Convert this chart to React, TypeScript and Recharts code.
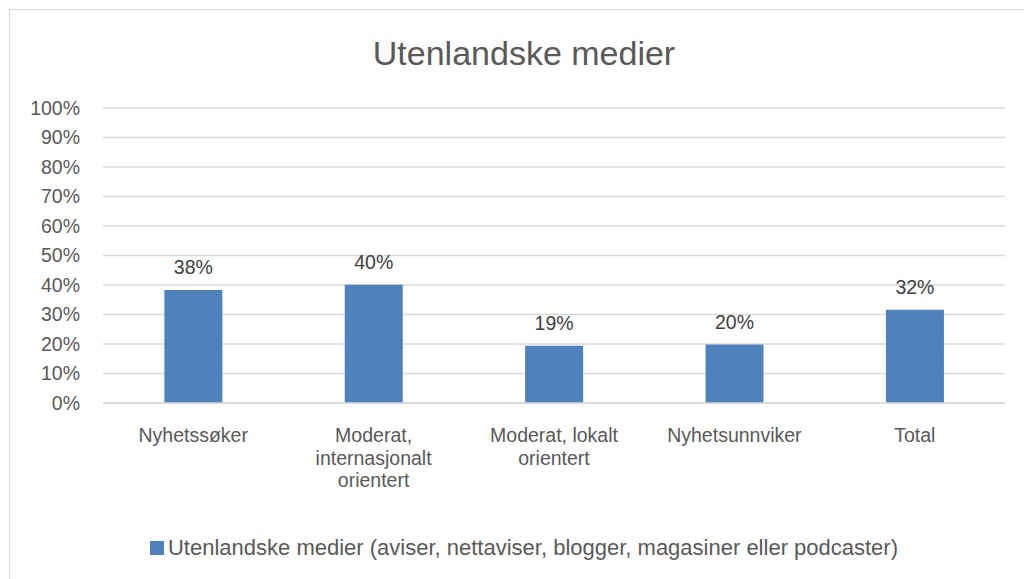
import { BarChart, Bar, XAxis, YAxis, CartesianGrid, LabelList } from "recharts";

const categories = [
  ["Nyhetssøker"],
  ["Moderat,", "internasjonalt", "orientert"],
  ["Moderat, lokalt", "orientert"],
  ["Nyhetsunnviker"],
  ["Total"],
];
const values = [38.3, 40.1, 19.4, 19.8, 31.6];
const yTicks = [0, 10, 20, 30, 40, 50, 60, 70, 80, 90, 100];
const seriesName = "Utenlandske medier (aviser, nettaviser, blogger, magasiner eller podcaster)";

const data = categories.map((c, i) => ({ name: c.join(" "), lines: c, value: values[i] }));

const FONT = "'Liberation Sans', Arial, sans-serif";
const TEXT = "#595959";

function CatTick(props: any) {
  const { x, y, payload } = props;
  const row = data[payload.index];
  return (
    <text x={x} y={y} textAnchor="middle" fill={TEXT} fontSize={19.5} fontFamily={FONT}>
      {row.lines.map((l: string, i: number) => (
        <tspan key={i} x={x} dy={i === 0 ? 31 : 22.5}>
          {l}
        </tspan>
      ))}
    </text>
  );
}

export default function App() {
  return (
    <div style={{ position: "absolute", left: 0, top: 0, width: 1024, height: 579, background: "#fff", fontFamily: FONT }}>
      <div
        style={{
          position: "absolute",
          left: 9,
          top: 9,
          width: 1015,
          height: 570,
          borderLeft: "1px solid #d9d9d9",
          borderTop: "1px solid #d9d9d9",
          boxSizing: "border-box",
        }}
      />
      <div
        style={{
          position: "absolute",
          left: 0,
          width: 1048,
          top: 33,
          textAlign: "center",
          fontSize: 34,
          lineHeight: "40px",
          color: TEXT,
        }}
      >
        Utenlandske medier
      </div>
      <div style={{ position: "absolute", left: 0, top: 0 }}>
        <BarChart
          width={1024}
          height={579}
          data={data}
          margin={{ top: 108, right: 19, left: 0, bottom: 0 }}
          barCategoryGap="34%"
        >
          <CartesianGrid vertical={false} stroke="#d9d9d9" strokeWidth={1.3} />
          <YAxis
            width={103}
            domain={[0, 100]}
            ticks={yTicks}
            interval={0}
            axisLine={false}
            tickLine={false}
            tickMargin={17}
            tickFormatter={(v: number) => `${v}%`}
            tick={{ fill: TEXT, fontSize: 19.5, fontFamily: FONT }}
          />
          <XAxis
            dataKey="name"
            height={176}
            axisLine={{ stroke: "#d9d9d9", strokeWidth: 1.3 }}
            tickLine={false}
            interval={0}
            tick={<CatTick />}
          />
          <Bar dataKey="value" fill="#4f81bd" isAnimationActive={false}>
            <LabelList
              dataKey="value"
              position="top"
              offset={16}
              formatter={(v: any) => `${Math.round(Number(v))}%`}
              style={{ fill: "#404040", fontSize: 19.5, fontFamily: FONT }}
            />
          </Bar>
        </BarChart>
      </div>
      <div
        style={{
          position: "absolute",
          left: 0,
          width: 1048,
          top: 536,
          display: "flex",
          justifyContent: "center",
          alignItems: "center",
          fontSize: 22,
          lineHeight: "24px",
          color: TEXT,
        }}
      >
        <span style={{ display: "inline-block", width: 14, height: 14, background: "#4f81bd", marginRight: 4 }} />
        {seriesName}
      </div>
    </div>
  );
}
